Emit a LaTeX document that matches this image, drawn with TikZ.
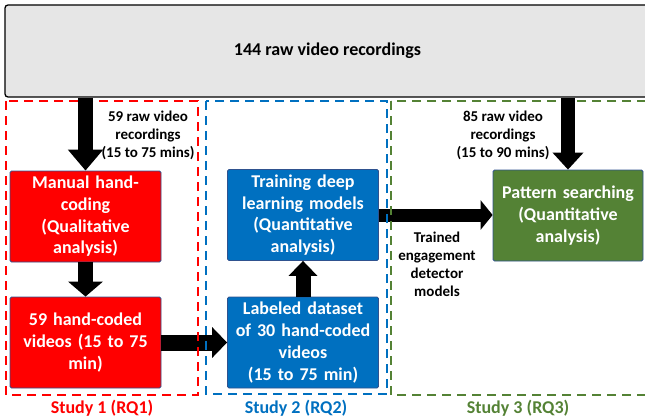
\documentclass[tikz,border=0pt]{standalone}
\usepackage{fontspec}
\setmainfont{Carlito}
\usetikzlibrary{arrows.meta}
\definecolor{topgray}{HTML}{E6E6E6}
\definecolor{studyred}{HTML}{FF0000}
\definecolor{studyblue}{HTML}{0070C0}
\definecolor{studygreen}{HTML}{548235}
\definecolor{edgeblue}{HTML}{2F528F}
\begin{document}
\begin{tikzpicture}[x=1pt,y=-1pt,
  stepbox/.style={draw=edgeblue, line width=0.8pt, rounded corners=1.5pt,
    minimum width=151pt, minimum height=91pt, text width=147pt, align=center,
    text=white, font=\fontsize{18}{21.7}\selectfont\bfseries, inner sep=0pt},
  note/.style={align=center, font=\fontsize{15}{18}\selectfont\bfseries, inner sep=0pt},
  studylabel/.style={font=\fontsize{18}{21}\selectfont\bfseries, inner sep=0pt},
  region/.style={line width=1.8pt, dash pattern=on 9pt off 6pt},
  flow/.style={line width=#1, draw=black}]
\useasboundingbox (0,0) rectangle (645,420);

% source recordings
\node[draw, line width=1.3pt, fill=topgray, rounded corners=3pt,
  minimum width=645pt, minimum height=92pt, inner sep=0pt,
  font=\fontsize{18}{21}\selectfont\bfseries] (raw) at (327.5,51) {144 raw video recordings};

% study 1
\node[stepbox, fill=studyred] (code) at (85.5,216.5) {Manual hand-\\coding\\(Qualitative\\analysis)};
\node[stepbox, fill=studyred] (coded) at (85.5,342.5) {59 hand-coded\\videos (15 to 75\\min)};
% study 2
\node[stepbox, fill=studyblue] (train) at (303,215) {Training deep\\learning models\\(Quantitative\\analysis)};
\node[stepbox, fill=studyblue] (data) at (303,342.5) {Labeled dataset\\of 30 hand-coded\\videos\\(15 to 75 min)};
% study 3
\node[stepbox, fill=studygreen, minimum width=150pt] (search) at (568,215.5) {Pattern searching\\(Quantitative\\analysis)};

% notes beside the arrows
\node[note] (n59) at (148,135) {59 raw video\\recordings\\(15 to 75 mins)};
\node[note] (n85) at (503,135) {85 raw video\\recordings\\(15 to 90 mins)};
\node[note] (ntr) at (437,264.5) {Trained\\engagement\\detector\\models};

% horizontal block arrows
\draw[flow=16pt, -{Triangle[width=30pt,length=15pt]}] (coded.east) -- (data.west);
\draw[flow=13pt, -{Triangle[width=29pt,length=12pt]}] (train.east) -- (train.east -| search.west);

% study regions
\draw[region, studyred] (6,101) rectangle (198,395);
\draw[region, studyblue] (206,101) rectangle (387,394);
\draw[region, studygreen] (391,101) rectangle (652,395);
\node[studylabel, text=studyred] (s1) at (102,408) {Study 1 (RQ1)};
\node[studylabel, text=studyblue] (s2) at (296,408) {Study 2 (RQ2)};
\node[studylabel, text=studygreen] (s3) at (518,408) {Study 3 (RQ3)};

% vertical block arrows
\draw[flow=15pt, -{Triangle[width=34pt,length=21pt]}] (raw.south -| code.north) -- (code.north);
\draw[flow=15pt, -{Triangle[width=34pt,length=15pt]}] (code.south) -- (coded.north);
\draw[flow=15pt, -{Triangle[width=28pt,length=15pt]}] (data.north) -- (train.south);
\draw[flow=14pt, -{Triangle[width=30pt,length=17pt]}] (raw.south -| search.north) -- (search.north);
\end{tikzpicture}
\end{document}
